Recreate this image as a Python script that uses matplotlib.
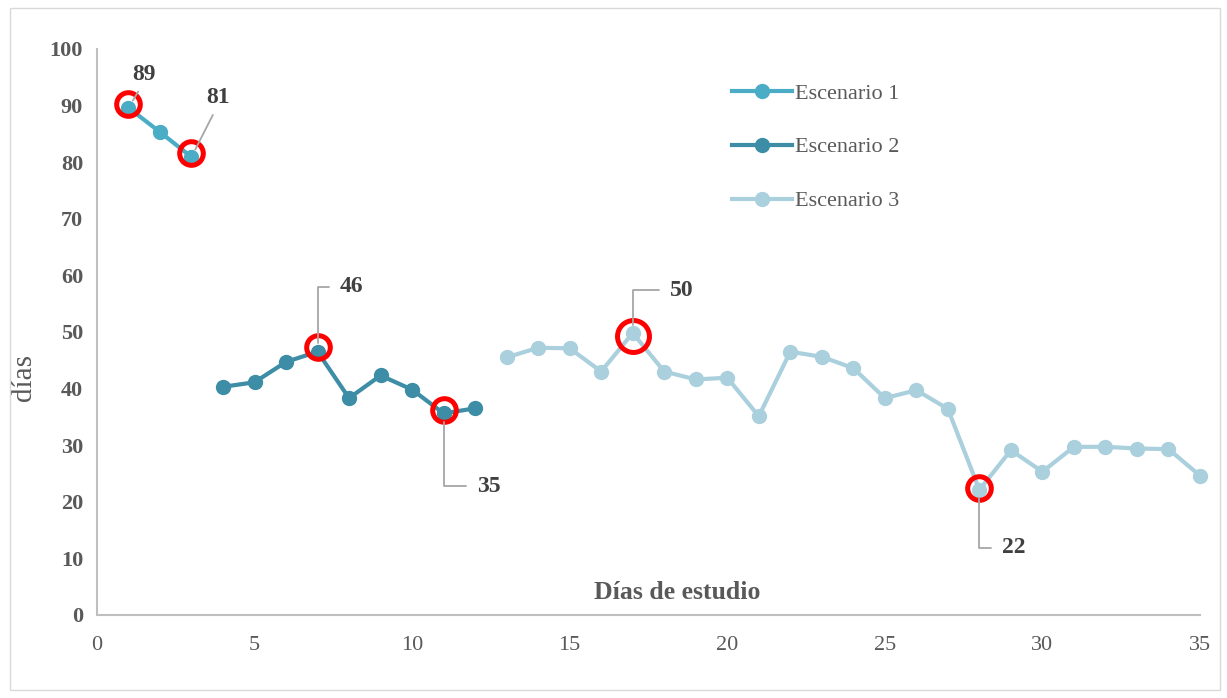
import matplotlib.pyplot as plt
from matplotlib.patches import Rectangle
from matplotlib.transforms import ScaledTranslation

plt.rcParams['font.family'] = ['Liberation Serif', 'DejaVu Serif']

# data
dias1 = [1, 2, 3]
esc1 = [89.6, 85.3, 80.9]
dias2 = [4, 5, 6, 7, 8, 9, 10, 11, 12]
esc2 = [40.3, 41.1, 44.7, 46.5, 38.3, 42.3, 39.8, 35.6, 36.5]
dias3 = list(range(13, 36))
esc3 = [45.5, 47.2, 47.1, 43.0, 49.8, 43.0, 41.6, 41.9, 35.1, 46.5, 45.6, 43.6,
        38.3, 39.7, 36.4, 22.1, 29.1, 25.3, 29.7, 29.7, 29.4, 29.3, 24.6]

# highlighted points: (day, value, label, text offset px, leader kind, circle shift px)
highlights = [
    (1, esc1[0], '89', (16, 33), 'straight', 4),
    (3, esc1[2], '81', (27, 59), 'straight', 4),
    (7, esc2[3], '46', (34, 65), 'up', 5),
    (11, esc2[7], '35', (45, -73), 'down', 3),
    (17, esc3[4], '50', (49, 43), 'up', -3),
    (28, esc3[15], '22', (34, -58), 'down', 2),
]

c1 = '#4BACC6'
c2 = '#3C8DA5'
c3 = '#AACFDD'
txt = '#595959'

fig = plt.figure(figsize=(12.27, 6.98), dpi=100)
fig.patches.append(Rectangle((0.008, 0.012), 0.986, 0.976, transform=fig.transFigure,
                             fill=False, edgecolor='#D9D9D9', linewidth=1))
ax = fig.add_axes([0.079, 0.119, 0.899, 0.811])

for d, v, c, lab in [(dias1, esc1, c1, 'Escenario 1'),
                     (dias2, esc2, c2, 'Escenario 2'),
                     (dias3, esc3, c3, 'Escenario 3')]:
    ax.plot(d, v, '-o', color=c, lw=3, ms=10, label=lab, clip_on=False)

for d, v, lab, off, kind, dy in highlights:
    size = 23 if lab == '50' else 17
    shift = ax.transData + ScaledTranslation(0, dy / 100, fig.dpi_scale_trans)
    ax.plot(d, v, 'o', ms=size, mfc='none', mec='#FF0000', mew=3.6, zorder=5,
            transform=shift)
    if kind == 'straight':
        cs = 'arc3'
        rp = (0.4, 0.0)
    else:
        cs = 'angle,angleA=0,angleB=90,rad=0'
        rp = (0.0, 0.5)
    ax.annotate(lab, xy=(d, v), xytext=off, textcoords='offset pixels',
                ha='center', va='center', fontsize=17, fontweight='bold', color='#404040',
                arrowprops=dict(arrowstyle='-', color='#A6A6A6', lw=1.3,
                                connectionstyle=cs, relpos=rp,
                                shrinkA=6 if kind != 'straight' else 3, shrinkB=6),
                zorder=6)

ax.set_xlim(0, 35)
ax.set_ylim(0, 100)
ax.set_xticks(range(0, 36, 5))
ax.set_yticks(range(0, 101, 10))
for s in ['top', 'right']:
    ax.spines[s].set_visible(False)
for s in ['left', 'bottom']:
    ax.spines[s].set_color('#BFBFBF')
    ax.spines[s].set_linewidth(1.5)
ax.tick_params(length=0, labelsize=16, labelcolor=txt)
ax.tick_params(axis='x', pad=15)
ax.tick_params(axis='y', pad=10)
for t in ax.get_yticklabels():
    t.set_fontweight('bold')

ax.set_ylabel('días', fontsize=21, color=txt)
ax.yaxis.set_label_coords(-0.054, 0.42)
ax.text(0.526, 0.04, 'Días de estudio', transform=ax.transAxes, ha='center', va='center',
        fontsize=18.5, fontweight='bold', color=txt)

leg = ax.legend(loc='upper left', bbox_to_anchor=(0.558, 0.975), frameon=False,
                fontsize=16, labelspacing=1.5, handlelength=2.7, handletextpad=0.1)
for t in leg.get_texts():
    t.set_color(txt)

fig.savefig('out.png', dpi=100)
